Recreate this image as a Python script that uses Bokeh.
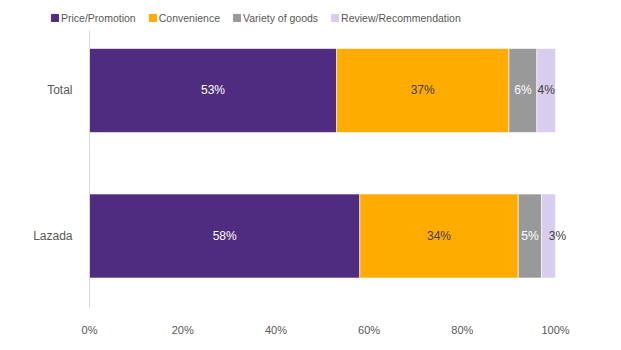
from bokeh.plotting import figure
from bokeh.models import ColumnDataSource, Range1d, FixedTicker, Legend, LegendItem
from bokeh.layouts import column
from bokeh.core.properties import value
from bokeh.embed import file_html
from bokeh.resources import INLINE

categories = ["Total", "Lazada"]
series = ["Price/Promotion", "Convenience", "Variety of goods", "Review/Recommendation"]
price_promotion = [53, 58]
convenience = [37, 34]
variety_of_goods = [6, 5]
review_recommendation = [4, 3]
x_ticks = [0, 20, 40, 60, 80, 100]
x_tick_labels = ["0%", "20%", "40%", "60%", "80%", "100%"]

colors = ["#4F2C80", "#FFAB00", "#999999", "#DACCED"]
label_colors = ["#FFFFFF", "#404040", "#FFFFFF", "#404040"]
FONT = "Liberation Sans"
TXT = "#595959"

n = len(categories)
ypos = [n - 1 - i for i in range(n)]  # first category at top

values = [price_promotion, convenience, variety_of_goods, review_recommendation]
data = {"y": ypos}
for s, v in zip(series, values):
    data[s] = v
source = ColumnDataSource(data)

# ---- legend strip ----
lg = figure(width=621, height=30, output_backend="svg", toolbar_location=None,
            x_range=Range1d(0, 100), y_range=Range1d(50, 60),
            x_axis_type=None, y_axis_type=None,
            min_border=0, outline_line_color=None)
try:
    lg.frame_align = False
except Exception:
    pass
lg.xgrid.grid_line_color = None
lg.ygrid.grid_line_color = None
lg_r = lg.hbar_stack(series, y="y", height=0.577, color=colors, source=source)
legend = Legend(items=[LegendItem(label=s, renderers=[r]) for s, r in zip(series, lg_r)],
                orientation="horizontal", location=(50, 6.5),
                border_line_color=None, background_fill_alpha=0,
                glyph_width=9, glyph_height=9, label_height=12, label_standoff=2,
                spacing=12, padding=4, margin=0,
                label_text_font=FONT, label_text_font_size="10.5px", label_text_color=TXT)
lg.add_layout(legend, "center")

# ---- main chart ----
p = figure(width=621, height=320, output_backend="svg", toolbar_location=None,
           x_range=Range1d(0, 104.29), y_range=Range1d(-0.498, 1.412),
           min_border_left=89, min_border_right=46, min_border_top=0,
           min_border_bottom=42, outline_line_color=None)
try:
    p.frame_align = False
except Exception:
    pass

p.hbar_stack(series, y="y", height=0.577, color=colors, source=source,
             line_color="white", line_width=0.6)

lx, ly, lt, lc, lo = [], [], [], [], []
for i in range(n):
    start = 0
    for j, v in enumerate(values):
        lx.append(start + v[i] / 2)
        ly.append(ypos[i])
        lt.append(f"{v[i]}%")
        lc.append(label_colors[j])
        lo.append(9 if v[i] * 4.66 < 17 else 0)
        start += v[i]
p.text(x=lx, y=ly, text=lt, text_color=lc, x_offset=lo, text_align="center",
       text_baseline="middle", text_font=value(FONT), text_font_size="12px")

p.xgrid.grid_line_color = None
p.ygrid.grid_line_color = None

xa = p.xaxis[0]
xa.ticker = FixedTicker(ticks=x_ticks)
xa.major_label_overrides = {t: l for t, l in zip(x_ticks, x_tick_labels)}
xa.axis_line_color = None
xa.major_tick_line_color = None
xa.minor_tick_line_color = None
xa.major_label_standoff = 9
xa.major_label_text_font = FONT
xa.major_label_text_font_size = "11px"
xa.major_label_text_color = TXT

ya = p.yaxis[0]
ya.ticker = FixedTicker(ticks=ypos)
ya.major_label_overrides = {y: c for y, c in zip(ypos, categories)}
ya.axis_line_color = "#D9D9D9"
ya.major_tick_line_color = None
ya.minor_tick_line_color = None
ya.major_label_standoff = 11
ya.major_label_text_font = FONT
ya.major_label_text_font_size = "12px"
ya.major_label_text_color = TXT

layout = column(lg, p, spacing=0)
open("out.html", "w").write(file_html(layout, INLINE))
